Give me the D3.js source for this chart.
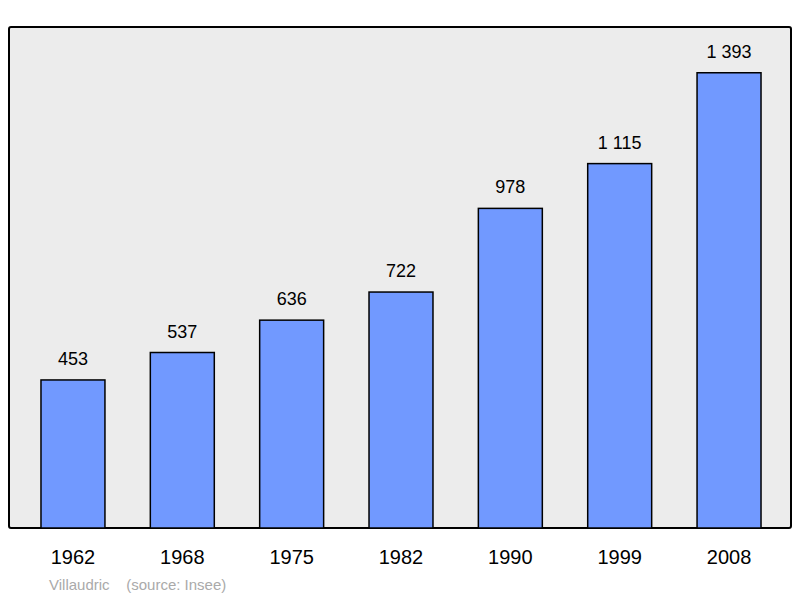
<!DOCTYPE html>
<html><head><meta charset="utf-8">
<script src="https://cdn.jsdelivr.net/npm/d3@7"></script>
<style>body{margin:0;background:#fff}</style></head>
<body><svg id="c" width="800" height="598"></svg>
<script>
const years = ["1962","1968","1975","1982","1990","1999","2008"];
const population = [453,537,636,722,978,1115,1393];
const labels = ["453","537","636","722","978","1 115","1 393"];

const svg = d3.select("#c");
const pTop = 27, pBottom = 528, pLeft = 9, pRight = 791;
svg.append("rect").attr("x",pLeft).attr("y",pTop).attr("width",pRight-pLeft).attr("height",pBottom-pTop)
  .attr("fill","#ececec").attr("stroke","#000").attr("stroke-width",2).attr("rx",2);
const x = d3.scaleBand().domain(years).range([pLeft, 793]).paddingInner(0.415).paddingOuter(0.2925);
const y = d3.scaleLinear().domain([0,1533]).range([pBottom, pTop]);
svg.selectAll(".bar").data(population).join("rect")
  .attr("x",(d,i)=>x(years[i])).attr("width",x.bandwidth())
  .attr("y",d=>y(d)).attr("height",d=>pBottom-y(d))
  .attr("fill","#7199ff").attr("stroke","#000").attr("stroke-width",1.5);
svg.selectAll(".val").data(population).join("text")
  .attr("x",(d,i)=>x(years[i])+x.bandwidth()/2).attr("y",d=>y(d)-15)
  .attr("text-anchor","middle").attr("font-family","Liberation Sans, Arial, sans-serif")
  .attr("font-size",18).text((d,i)=>labels[i]);
svg.selectAll(".yr").data(years).join("text")
  .attr("x",d=>x(d)+x.bandwidth()/2).attr("y",564)
  .attr("text-anchor","middle").attr("font-family","Liberation Sans, Arial, sans-serif")
  .attr("font-size",20).text(d=>d);
svg.append("text").attr("x",49).attr("y",590).attr("fill","#aaa")
  .attr("font-family","Liberation Sans, Arial, sans-serif").attr("font-size",15)
  .attr("xml:space","preserve").text("Villaudric    (source: Insee)");
</script></body></html>
